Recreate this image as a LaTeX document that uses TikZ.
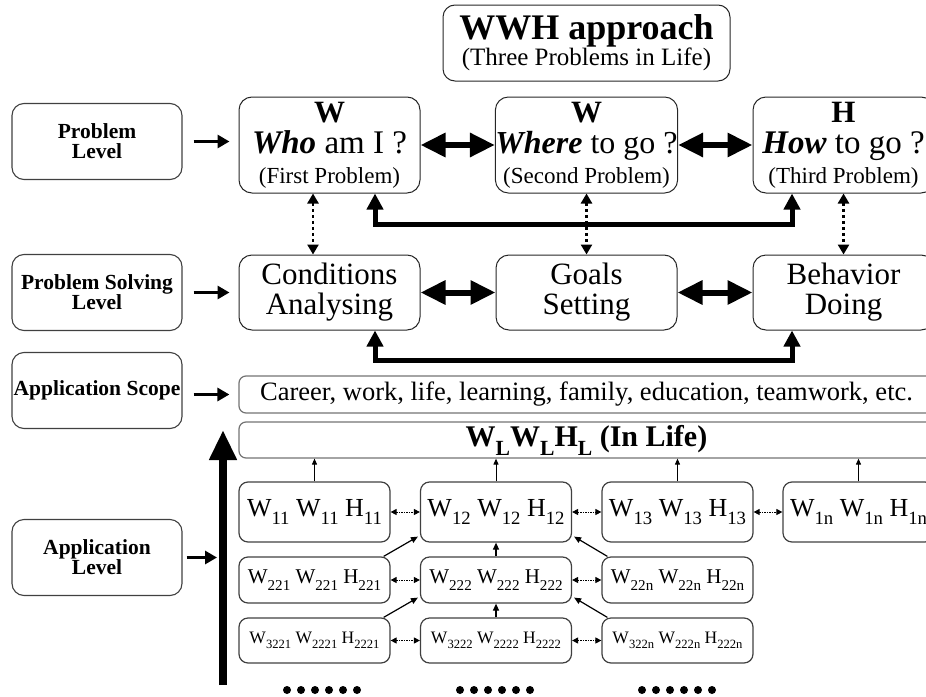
\documentclass[tikz,border=0pt]{standalone}
\usepackage{fontspec}
\usepackage{graphicx}
\setmainfont{Liberation Serif}
\usetikzlibrary{arrows.meta}

\newcommand{\setfs}[2]{\fontsize{#1}{#2}\selectfont}
\newcommand{\lowsub}[1]{\raisebox{-0.3em}{\scalebox{0.72}{#1}}}
\newcommand{\wwh}[3]{W\lowsub{#1} W\lowsub{#2} H\lowsub{#3}}

\begin{document}
\begin{tikzpicture}[
  x=1pt, y=-1pt,
  titlebox/.style={draw=black!85, line width=1pt, rounded corners=12pt, minimum width=287pt, minimum height=76pt, align=center, inner sep=0pt},
  lvl/.style={draw=black!75, line width=1.1pt, rounded corners=12pt, minimum width=170pt, minimum height=76pt, align=center, inner sep=0pt, font=\setfs{21.5}{20}\bfseries},
  prob/.style={draw=black!85, line width=1pt, rounded corners=13pt, minimum width=181pt, minimum height=96pt, align=center, inner sep=0pt, font=\setfs{31}{30}},
  solve/.style={draw=black!85, line width=1pt, rounded corners=13pt, minimum width=181pt, minimum height=75pt, align=center, inner sep=0pt, font=\setfs{31}{30}},
  band/.style={draw=black!55, line width=1.2pt, rounded corners=7pt, minimum width=695pt, inner sep=0pt},
  cell/.style={draw=black!75, line width=1.2pt, rounded corners=9pt, minimum width=151pt, inner sep=0pt},
  dot/.style={circle, fill=black, inner sep=0pt, minimum size=8pt},
  pointer/.style={-{Triangle[length=12pt, width=13pt]}, line width=3.5pt},
  bigup/.style={-{Triangle[length=30pt, width=26pt]}, line width=8pt},
  dbl/.style={{Triangle[length=25pt, width=23pt]}-{Triangle[length=25pt, width=23pt]}, line width=6pt},
  dotlink/.style={{Triangle[length=10pt, width=11pt]}-{Triangle[length=10pt, width=11pt]}, line width=2.8pt, dash pattern=on 3pt off 3pt},
  elbow/.style={{Triangle[length=16pt, width=16pt]}-{Triangle[length=16pt, width=16pt]}, line width=5pt},
  gridup/.style={-{Triangle[length=6pt, width=5pt]}, line width=1pt},
  griddiag/.style={-{Triangle[length=7pt, width=6pt]}, line width=1.2pt},
  gridlink/.style={{Triangle[length=6pt, width=6pt]}-{Triangle[length=6pt, width=6pt]}, line width=0.9pt, dash pattern=on 1.5pt off 1pt},
]

\useasboundingbox (0,0) rectangle (926,696);
\clip (0,0) rectangle (926,696);

% =========================
% Title
% =========================
\node[titlebox] (title) at (586.5,43)
  {{\setfs{36}{31}\bfseries WWH approach}\\{\setfs{25}{31}(Three Problems in Life)}};

% =========================
% Level labels (left column)
% =========================
\node[lvl] (lvlProb)  at (97,141.5) {Problem\\Level};
\node[lvl] (lvlSolve) at (97,292.5) {Problem Solving\\Level};
\node[lvl] (lvlScope) at (97,390.5) {Application Scope};
\node[lvl] (lvlApp)   at (97,557.5) {Application\\Level};

% =========================
% Problem level (W, W, H)
% =========================
\node[prob] (pW1) at (329.5,145)
  {{\setfs{31}{30}\bfseries W}\\[1pt]{\setfs{33}{30}\textbf{\textit{Who}} am I ?}\\{\setfs{23}{30}(First Problem)}};
\node[prob] (pW2) at (586.5,145)
  {{\setfs{31}{30}\bfseries W}\\[1pt]{\setfs{32}{30}\textbf{\textit{Where}} to go ?}\\{\setfs{23}{30}(Second Problem)}};
\node[prob] (pH) at (843.5,145)
  {{\setfs{31}{30}\bfseries H}\\[1pt]{\setfs{33}{30}\textbf{\textit{How}} to go ?}\\{\setfs{23}{30}(Third Problem)}};

\draw[dbl] (pW1.east) -- (pW2.west);
\draw[dbl] (pW2.east) -- (pH.west);

% =========================
% Problem solving level
% =========================
\node[solve] (sCond) at (329.5,292.5) {Conditions\\Analysing};
\node[solve] (sGoal) at (586.5,292.5) {Goals\\Setting};
\node[solve] (sBeh)  at (843.5,292.5) {Behavior\\Doing};

\draw[dbl] (sCond.east) -- (sGoal.west);
\draw[dbl] (sGoal.east) -- (sBeh.west);

% problem <-> solving (dotted)
\draw[dotlink] ([xshift=-16.5pt]pW1.south) -- ([xshift=-16.5pt]sCond.north);
\draw[dotlink] (pW2.south) -- (sGoal.north);
\draw[dotlink] (pH.south) -- (sBeh.north);

% first <-> third (elbows)
\draw[elbow] ([xshift=45.5pt]pW1.south) -- ++(0,31) -| ([xshift=-51.5pt]pH.south);
\draw[elbow] ([xshift=45.5pt]sCond.south) -- ++(0,30) -| ([xshift=-51.5pt]sBeh.south);

% =========================
% Application scope and W_L W_L H_L
% =========================
\node[band, minimum height=37pt, font=\setfs{26.5}{26}] (scope) at (586.5,394.5)
  {Career, work, life, learning, family, education, teamwork, etc.};
\node[band, minimum height=36pt, font=\setfs{30}{30}\bfseries] (life) at (586.5,440)
  {W\lowsub{L}W\lowsub{L}H\lowsub{L} (In Life)};

% =========================
% Application level grid
% =========================
\node[cell, minimum height=60pt, font=\setfs{26}{26}] (c11) at (314.5,512) {\wwh{11}{11}{11}};
\node[cell, minimum height=60pt, font=\setfs{26}{26}] (c12) at (496,512)   {\wwh{12}{12}{12}};
\node[cell, minimum height=60pt, font=\setfs{26}{26}] (c13) at (677.5,512) {\wwh{13}{13}{13}};
\node[cell, minimum height=60pt, font=\setfs{26}{26}] (c1n) at (858.5,512) {\wwh{1n}{1n}{1n}};

\node[cell, minimum height=46pt, font=\setfs{21}{21}] (c21) at (314.5,580) {\wwh{221}{221}{221}};
\node[cell, minimum height=46pt, font=\setfs{21}{21}] (c22) at (496,580)   {\wwh{222}{222}{222}};
\node[cell, minimum height=46pt, font=\setfs{21}{21}] (c2n) at (677.5,580) {\wwh{22n}{22n}{22n}};

\node[cell, minimum height=45pt, font=\setfs{17.5}{18}] (c31) at (314.5,640.5) {\wwh{3221}{2221}{2221}};
\node[cell, minimum height=45pt, font=\setfs{17.5}{18}] (c32) at (496,640.5)   {\wwh{3222}{2222}{2222}};
\node[cell, minimum height=45pt, font=\setfs{17.5}{18}] (c3n) at (677.5,640.5) {\wwh{322n}{222n}{222n}};

% up to W_L W_L H_L
\foreach \c in {c11,c12,c13,c1n} {
  \draw[gridup] (\c.north) -- (\c.north |- life.south);
}

% neighbours (dotted)
\draw[gridlink] (c11.east) -- (c12.west);
\draw[gridlink] (c12.east) -- (c13.west);
\draw[gridlink] (c13.east) -- (c1n.west);
\draw[gridlink] (c21.east) -- (c22.west);
\draw[gridlink] (c22.east) -- (c2n.west);
\draw[gridlink] (c31.east) -- (c32.west);
\draw[gridlink] (c32.east) -- (c3n.west);

% towards the middle column
\draw[griddiag] ([shift={(-7,0)}]c21.north east) -- ([shift={(-2,-6)}]c12.south west);
\draw[griddiag] ([shift={(-7,0)}]c31.north east) -- ([shift={(-2,-6)}]c22.south west);
\draw[griddiag] ([shift={(6,0)}]c2n.north west) -- ([shift={(2,-6)}]c12.south east);
\draw[griddiag] ([shift={(6,0)}]c3n.north west) -- ([shift={(2,-6)}]c22.south east);
\draw[griddiag] (c22.north) -- (c12.south);
\draw[griddiag] (c32.north) -- (c22.south);

% dots below
\foreach \g/\cx in {1/322, 2/495, 3/677} {
  \foreach \i in {0,...,5} {
    \node[dot] (dot\g\i) at ({\cx-35+\i*14},690) {};
  }
}

% =========================
% Level arrows
% =========================
\coordinate (bigTail) at (223,685);
\coordinate (bigTip) at (223,430);
\draw[bigup] (bigTail) -- (bigTip);

\draw[pointer, shorten <=11pt, shorten >=9pt] (lvlProb.east) -- (lvlProb.east -| pW1.west);
\draw[pointer, shorten <=11pt, shorten >=9pt] (lvlSolve.east) -- (lvlSolve.east -| sCond.west);
\draw[pointer, shorten <=11pt, shorten >=9pt] (lvlScope.east |- scope.west) -- (scope.west);
\draw[pointer, shorten <=4pt, shorten >=6pt] (lvlApp.east) -- (lvlApp.east -| bigTail);

\end{tikzpicture}
\end{document}
